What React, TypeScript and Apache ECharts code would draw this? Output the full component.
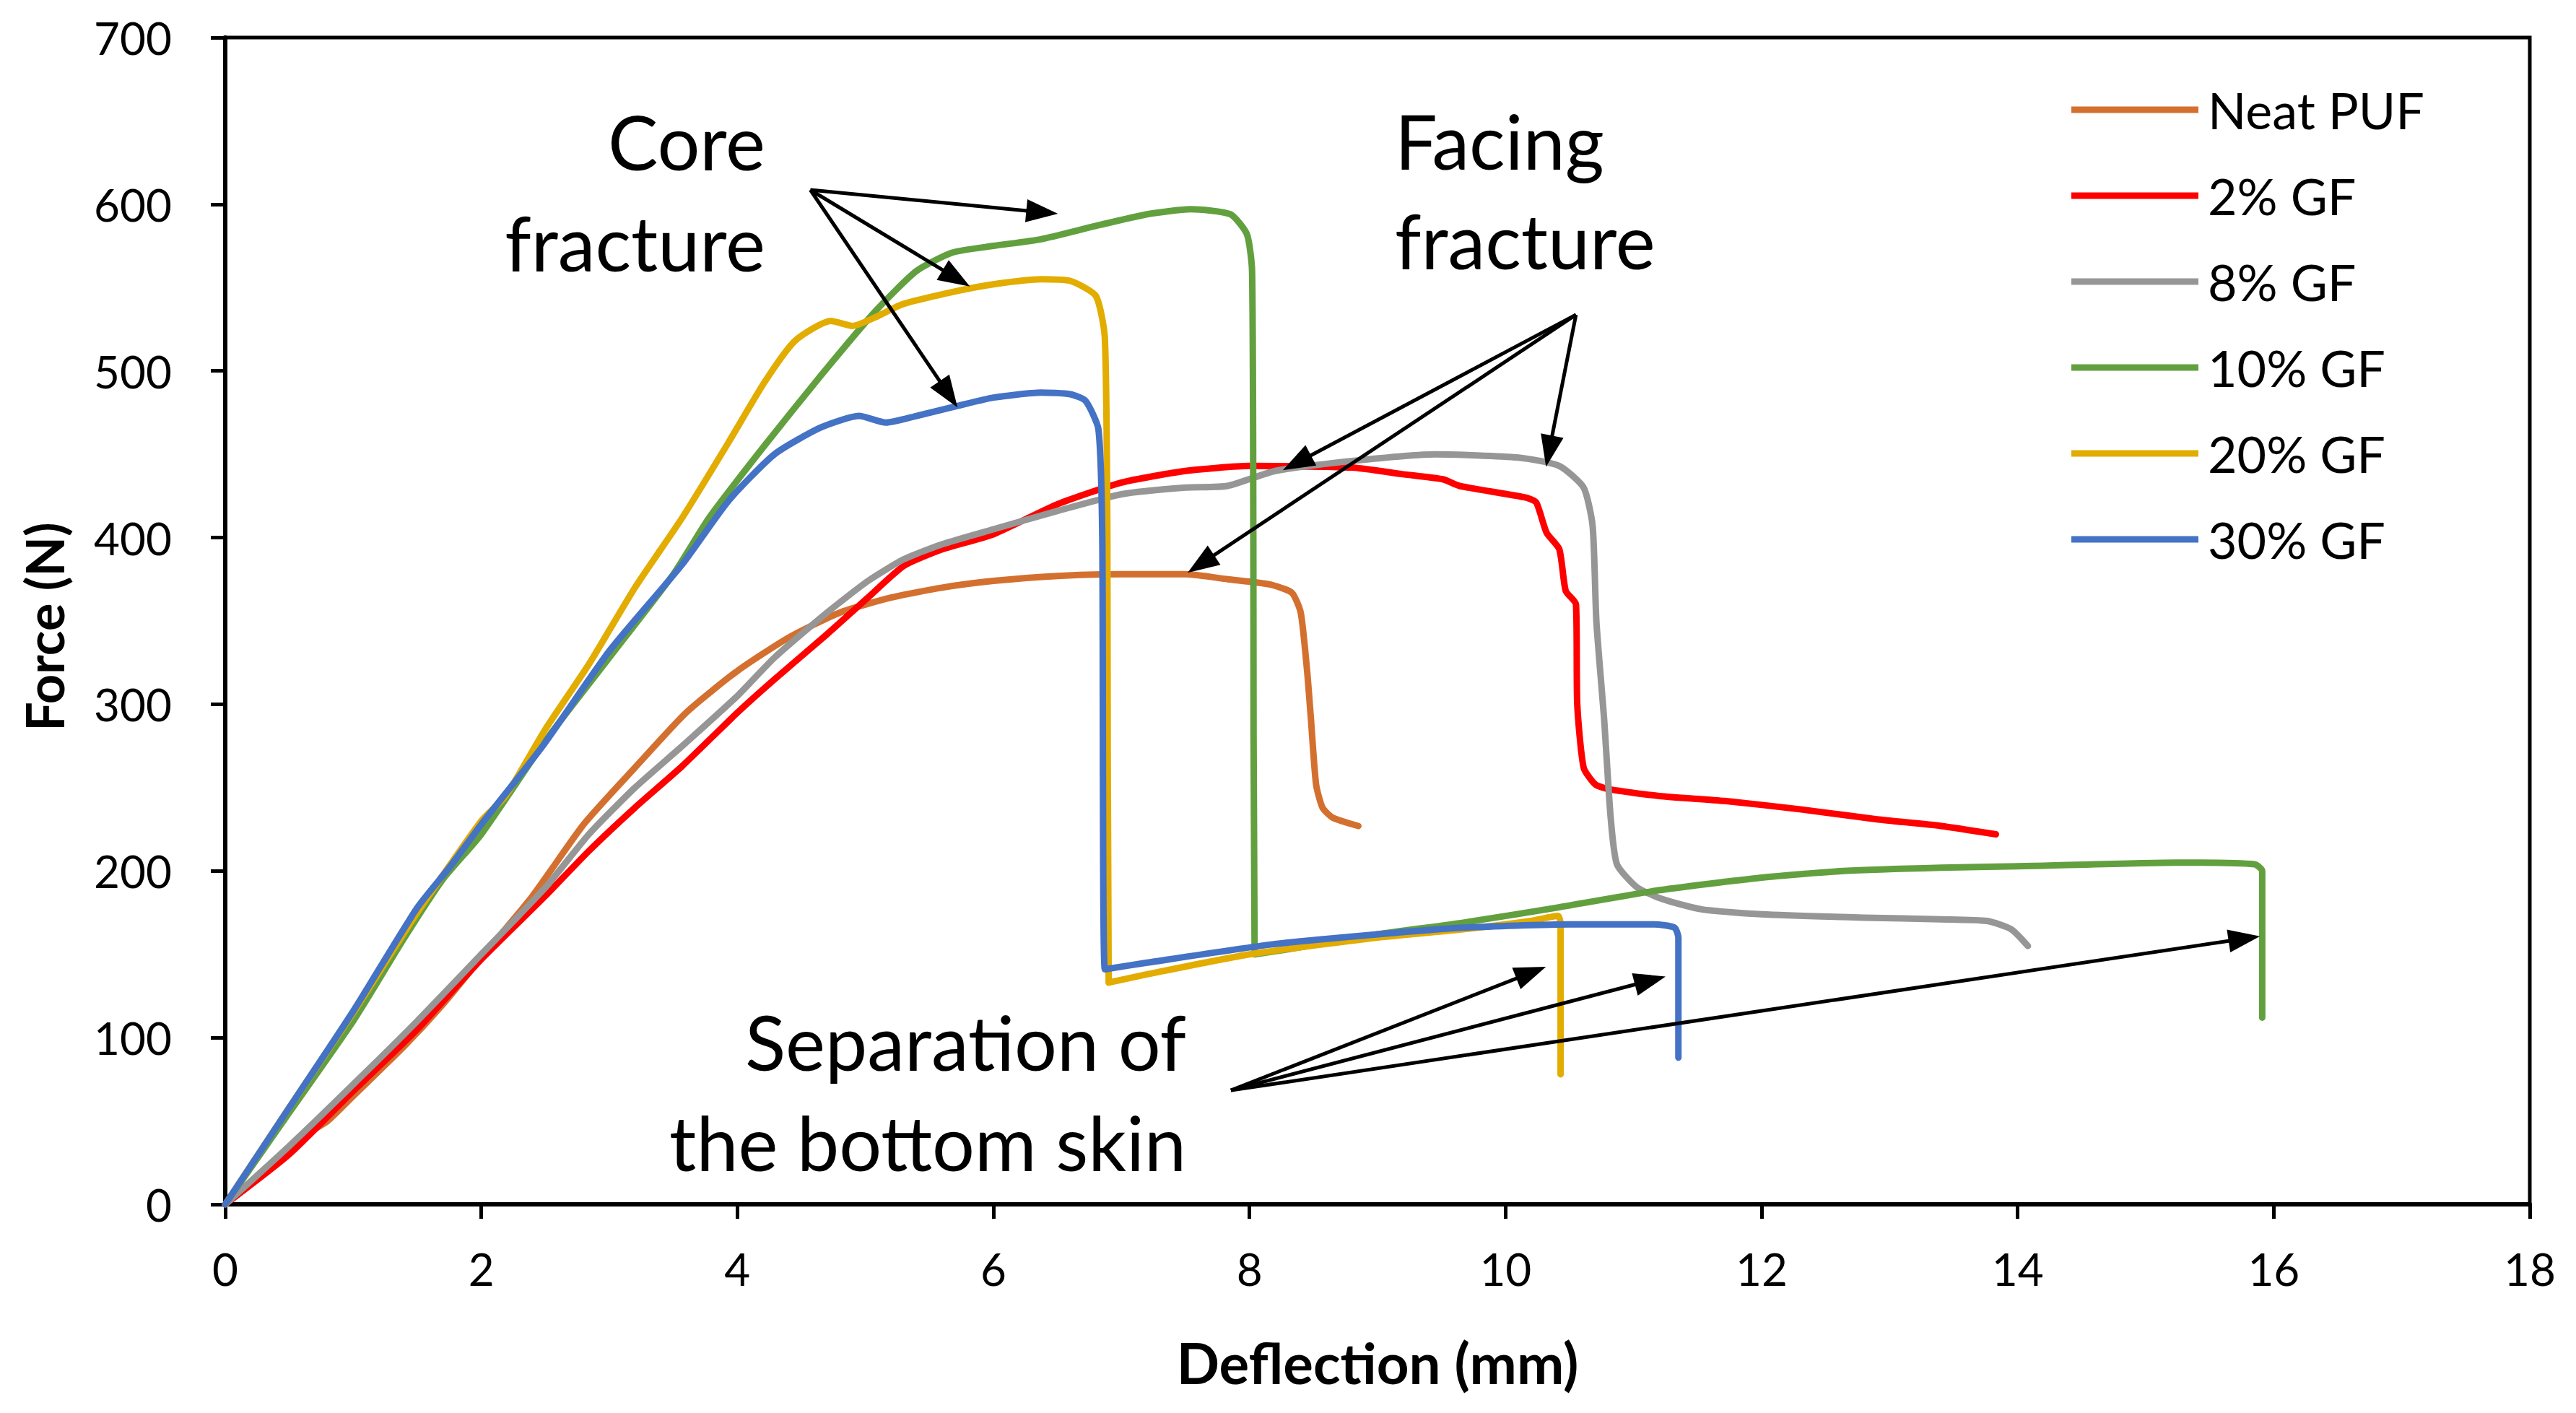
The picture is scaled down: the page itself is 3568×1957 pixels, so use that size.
import React, { useEffect, useRef } from "react";
import * as echarts from "echarts";

const seriesNames = ["Neat PUF", "2% GF", "8% GF", "10% GF", "20% GF", "30% GF"];
const seriesColors = ["#D4702F", "#FF0000", "#969696", "#62A03F", "#E2AC00", "#4472C4"];

const xTicks = { min: 0, max: 18, interval: 2 };
const yTicks = { min: 0, max: 700, interval: 100 };

const neatPUF: [number, number][] = [
  [0, 0], [0.4, 25], [0.7, 45], [0.8, 50], [1.0, 65], [1.4, 95], [1.7, 120], [2.0, 148],
  [2.4, 185], [2.8, 228], [3.2, 262], [3.6, 295], [4.0, 320], [4.4, 340], [4.8, 355],
  [5.2, 364], [5.6, 370], [6.0, 374], [6.5, 377], [7.0, 378], [7.5, 378], [7.83, 375],
  [8.15, 372], [8.33, 367], [8.4, 355], [8.45, 320], [8.48, 291], [8.52, 252], [8.57, 238],
  [8.65, 232], [8.85, 227],
];

const gf2: [number, number][] = [
  [0, 0], [0.5, 30], [1.0, 68], [1.5, 105], [2.0, 147], [2.5, 185], [2.84, 212], [3.2, 238],
  [3.57, 263], [4.0, 295], [4.29, 315], [4.7, 342], [5.02, 364], [5.3, 383], [5.6, 393],
  [6.0, 402], [6.5, 420], [7.0, 433], [7.5, 440], [8.0, 443], [8.8, 442], [9.2, 438],
  [9.51, 435], [9.64, 431], [10.16, 424], [10.24, 421], [10.32, 403], [10.42, 393],
  [10.47, 368], [10.55, 360], [10.56, 300], [10.61, 262], [10.7, 252], [10.81, 249],
  [11.2, 245], [11.71, 242], [12.3, 237], [12.9, 231], [13.4, 227], [13.83, 222],
];

const gf8: [number, number][] = [
  [0, 0], [0.5, 35], [1.0, 72], [1.5, 110], [2.0, 150], [2.5, 190], [2.84, 222], [3.2, 250],
  [3.57, 275], [4.0, 305], [4.29, 328], [4.7, 355], [5.02, 374], [5.3, 387], [5.6, 396],
  [6.0, 405], [6.5, 416], [7.0, 426], [7.5, 430], [7.83, 431], [8.2, 440], [8.8, 446],
  [9.45, 450], [10.1, 448], [10.42, 443], [10.61, 430], [10.68, 407], [10.71, 349],
  [10.77, 291], [10.82, 233], [10.87, 204], [11.03, 190], [11.23, 183], [11.53, 177],
  [12.0, 174], [12.8, 172], [13.4, 171], [13.76, 170], [13.95, 165], [14.08, 155],
];

const gf10: [number, number][] = [
  [0, 0], [0.5, 55], [1.0, 110], [1.4, 160], [1.7, 195], [2.0, 222], [2.5, 278], [3.0, 328],
  [3.5, 378], [3.78, 412], [4.21, 455], [4.65, 497], [5.08, 536], [5.4, 560], [5.68, 571],
  [6.0, 575], [6.37, 579], [6.8, 587], [7.2, 594], [7.54, 597], [7.85, 594], [7.98, 582],
  [8.02, 560], [8.03, 400], [8.04, 150], [8.3, 153], [9.0, 162], [9.67, 169], [10.4, 178],
  [11.16, 188], [12.0, 196], [12.64, 200], [13.4, 202], [14.13, 203], [15.24, 205],
  [15.85, 204], [15.91, 200], [15.91, 112],
];

const gf20: [number, number][] = [
  [0, 0], [0.5, 58], [1.0, 115], [1.5, 175], [2.0, 230], [2.19, 245], [2.5, 285], [2.84, 324],
  [3.2, 370], [3.57, 412], [3.93, 457], [4.21, 493], [4.45, 518], [4.73, 530], [4.9, 527],
  [5.1, 533], [5.29, 540], [5.72, 548], [6.0, 552], [6.37, 555], [6.6, 554], [6.8, 545],
  [6.87, 520], [6.89, 400], [6.9, 133], [7.2, 138], [8.0, 150], [9.0, 160], [9.67, 165],
  [10.2, 170], [10.41, 173], [10.43, 168], [10.43, 78],
];

const gf30: [number, number][] = [
  [0, 0], [0.5, 58], [1.0, 116], [1.5, 178], [1.76, 203], [2.0, 228], [2.48, 275], [3.0, 332],
  [3.57, 384], [3.93, 422], [4.29, 450], [4.65, 466], [4.95, 473], [5.16, 469], [5.4, 473],
  [5.72, 479], [6.0, 484], [6.37, 487], [6.6, 486], [6.72, 482], [6.82, 465], [6.85, 400],
  [6.87, 141], [7.2, 145], [8.18, 156], [9.0, 162], [9.67, 166], [10.5, 168], [11.16, 168],
  [11.32, 166], [11.35, 160], [11.35, 88],
];

const seriesData = [neatPUF, gf2, gf8, gf10, gf20, gf30];

// Annotation arrows (data units): [fromX, fromY, toX, toY]
const coreArrows = [
  [4.57, 608.6, 6.38, 595.2],
  [4.57, 608.6, 5.71, 555.6],
  [4.57, 608.6, 5.65, 486.0],
];
const facingArrows = [
  [10.55, 533.7, 8.37, 444.9],
  [10.55, 533.7, 10.34, 451.8],
  [10.55, 533.7, 7.62, 384.2],
];
const separationArrows = [
  [7.855, 68.4, 10.2, 139.0],
  [7.855, 68.4, 11.13, 134.3],
  [7.855, 68.4, 15.77, 159.4],
];

const annotationTexts = ["Core\nfracture", "Facing\nfracture", "Separation of\nthe bottom skin"];
const axisTitles = { x: "Deflection (mm)", y: "Force (N)" };

const FONT = "Lato, 'Open Sans', sans-serif";

export default function App() {
  const ref = useRef<HTMLDivElement>(null);

  useEffect(() => {
    if (!ref.current) return;
    const chart = echarts.init(ref.current, undefined, { renderer: "svg" });

    const arrows = [...coreArrows, ...facingArrows, ...separationArrows].map((a) => [
      { coord: [a[0], a[1]], symbol: "none" },
      { coord: [a[2], a[3]], symbol: "triangle" },
    ]);

    const series: any[] = seriesNames.map((name, i) => ({
      name,
      type: "line",
      data: seriesData[i],
      showSymbol: false,
      symbol: "none",
      smooth: 0.2,
      lineStyle: { color: seriesColors[i], width: 9, cap: "round", join: "round" },
      itemStyle: { color: seriesColors[i] },
      z: 2 + i,
    }));

    series[series.length - 1].markLine = {
      silent: true,
      animation: false,
      symbolSize: [32, 44],
      label: { show: false },
      lineStyle: { color: "#000", width: 5, type: "solid" },
      itemStyle: { color: "#000" },
      data: arrows,
      z: 20,
    };

    const option: any = {
      animation: false,
      backgroundColor: "#fff",
      textStyle: { fontFamily: FONT },
      grid: {
        left: 312,
        right: 64,
        top: 52,
        bottom: 289,
        show: true,
        borderColor: "#000",
        borderWidth: 5,
        backgroundColor: "transparent",
      },
      legend: {
        data: seriesNames,
        orient: "vertical",
        left: 2864,
        top: 112,
        icon: "rect",
        itemWidth: 176,
        itemHeight: 9,
        itemGap: 49,
        textStyle: {
          fontFamily: FONT,
          fontSize: 70,
          color: "#000",
          lineHeight: 70,
          padding: [0, 0, 0, 8],
        },
      },
      xAxis: {
        type: "value",
        min: xTicks.min,
        max: xTicks.max,
        interval: xTicks.interval,
        axisLine: { show: true, lineStyle: { color: "#000", width: 6 } },
        axisTick: { show: true, inside: false, length: 20, lineStyle: { color: "#000", width: 5 } },
        axisLabel: { color: "#000", fontFamily: FONT, fontSize: 62, margin: 58 },
        splitLine: { show: false },
      },
      yAxis: {
        type: "value",
        min: yTicks.min,
        max: yTicks.max,
        interval: yTicks.interval,
        axisLine: { show: true, lineStyle: { color: "#000", width: 6 } },
        axisTick: { show: true, inside: false, length: 20, lineStyle: { color: "#000", width: 5 } },
        axisLabel: { color: "#000", fontFamily: FONT, fontSize: 62, margin: 74 },
        splitLine: { show: false },
      },
      graphic: [
        {
          type: "text",
          x: 61,
          y: 868,
          rotation: Math.PI / 2,
          style: {
            text: axisTitles.y,
            font: `bold 72px ${FONT}`,
            fill: "#000",
            textAlign: "center",
            textVerticalAlign: "middle",
          },
        },
        {
          type: "text",
          x: 1908,
          y: 1887,
          style: {
            text: axisTitles.x,
            font: `bold 78px ${FONT}`,
            fill: "#000",
            textAlign: "center",
            textVerticalAlign: "middle",
          },
        },
        {
          type: "text",
          x: 1060,
          y: 265,
          style: {
            text: annotationTexts[0],
            font: `104px ${FONT}`,
            lineHeight: 140,
            fill: "#000",
            textAlign: "right",
            textVerticalAlign: "middle",
          },
        },
        {
          type: "text",
          x: 1932,
          y: 263,
          style: {
            text: annotationTexts[1],
            font: `104px ${FONT}`,
            lineHeight: 138,
            fill: "#000",
            textAlign: "left",
            textVerticalAlign: "middle",
          },
        },
        {
          type: "text",
          x: 1643,
          y: 1512,
          style: {
            text: annotationTexts[2],
            font: `104px ${FONT}`,
            lineHeight: 139,
            fill: "#000",
            textAlign: "right",
            textVerticalAlign: "middle",
          },
        },
      ],
      series,
    };

    chart.setOption(option);
    return () => chart.dispose();
  }, []);

  return (
    <div
      ref={ref}
      style={{ position: "fixed", left: 0, top: 0, width: 3568, height: 1957, background: "#fff" }}
    />
  );
}
